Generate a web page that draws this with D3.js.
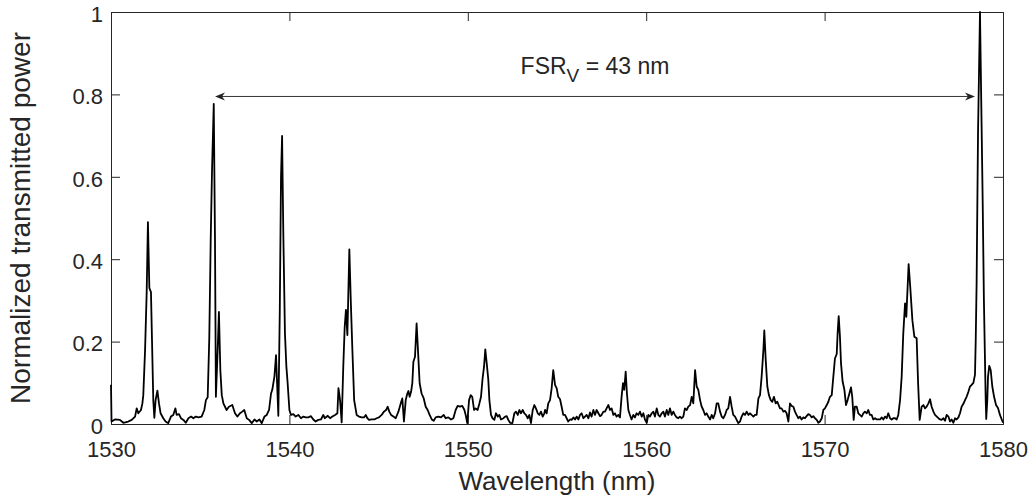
<!DOCTYPE html>
<html>
<head>
<meta charset="utf-8">
<script src="https://cdn.jsdelivr.net/npm/d3@7/dist/d3.min.js"></script>
<style>
  body { margin: 0; background: #fff; }
  svg text { font-family: "Liberation Sans", Arial, Helvetica, sans-serif; fill: #262626; }
</style>
</head>
<body>
<svg id="chart" width="1031" height="496"></svg>
<script>
"use strict";

var wavelength = [
  1530.00,1530.03,1530.22,1530.50,1530.69,1530.97,1531.16,1531.35,1531.44,1531.53,1531.68,1531.76,1531.81,1531.91,1532.00,1532.07,1532.15,1532.24,1532.30,1532.37,
  1532.43,1532.50,1532.60,1532.69,1532.78,1532.93,1533.06,1533.21,1533.36,1533.49,1533.61,1533.68,1533.81,1533.92,1534.06,1534.19,1534.34,1534.49,1534.62,1534.75,
  1534.90,1535.08,1535.23,1535.32,1535.42,1535.51,1535.59,1535.66,1535.76,1535.83,1535.88,1535.98,1536.05,1536.13,1536.21,1536.30,1536.48,1536.61,1536.80,1536.95,
  1537.08,1537.23,1537.36,1537.47,1537.61,1537.74,1537.89,1538.04,1538.17,1538.32,1538.45,1538.60,1538.73,1538.86,1538.97,1539.04,1539.16,1539.25,1539.31,1539.38,
  1539.46,1539.53,1539.59,1539.66,1539.75,1539.83,1539.90,1540.00,1540.09,1540.22,1540.35,1540.50,1540.65,1540.78,1540.91,1541.06,1541.21,1541.34,1541.47,1541.62,
  1541.77,1541.90,1541.98,1542.15,1542.28,1542.41,1542.56,1542.69,1542.75,1542.84,1542.93,1543.02,1543.10,1543.17,1543.25,1543.36,1543.44,1543.53,1543.63,1543.77,
  1543.90,1544.05,1544.18,1544.28,1544.37,1544.46,1544.61,1544.76,1544.89,1545.02,1545.17,1545.30,1545.42,1545.51,1545.60,1545.70,1545.83,1545.96,1546.11,1546.24,
  1546.33,1546.42,1546.52,1546.61,1546.67,1546.74,1546.82,1546.89,1546.95,1547.04,1547.13,1547.23,1547.30,1547.41,1547.53,1547.64,1547.75,1547.86,1547.98,1548.09,
  1548.20,1548.35,1548.50,1548.65,1548.76,1548.91,1549.06,1549.19,1549.32,1549.43,1549.56,1549.69,1549.81,1549.88,1549.97,1550.07,1550.16,1550.25,1550.35,1550.44,
  1550.55,1550.65,1550.74,1550.83,1550.91,1550.98,1551.08,1551.15,1551.21,1551.30,1551.39,1551.49,1551.58,1551.68,1551.77,1551.86,1552.00,1552.09,1552.18,1552.27,
  1552.37,1552.50,1552.61,1552.70,1552.80,1552.89,1552.98,1553.08,1553.17,1553.26,1553.36,1553.45,1553.54,1553.64,1553.73,1553.82,1553.92,1554.01,1554.10,1554.20,
  1554.29,1554.33,1554.42,1554.51,1554.61,1554.70,1554.79,1554.89,1554.98,1555.07,1555.17,1555.26,1555.35,1555.45,1555.54,1555.63,1555.73,1555.82,1555.92,1556.01,
  1556.10,1556.20,1556.29,1556.38,1556.48,1556.57,1556.66,1556.76,1556.85,1556.94,1557.04,1557.13,1557.22,1557.32,1557.41,1557.50,1557.60,1557.69,1557.78,1557.88,
  1557.97,1558.06,1558.16,1558.25,1558.34,1558.44,1558.53,1558.62,1558.70,1558.77,1558.85,1558.92,1559.00,1559.09,1559.18,1559.28,1559.37,1559.46,1559.56,1559.65,
  1559.75,1559.84,1559.93,1560.03,1560.12,1560.21,1560.31,1560.40,1560.49,1560.59,1560.68,1560.77,1560.87,1560.96,1561.05,1561.15,1561.24,1561.33,1561.43,1561.52,
  1561.61,1561.71,1561.80,1561.89,1561.99,1562.08,1562.17,1562.27,1562.36,1562.46,1562.55,1562.64,1562.74,1562.83,1562.92,1563.02,1563.11,1563.20,1563.30,1563.39,
  1563.48,1563.58,1563.67,1563.76,1563.86,1563.95,1564.04,1564.14,1564.23,1564.32,1564.42,1564.51,1564.60,1564.70,1564.79,1564.88,1564.98,1565.07,1565.16,1565.26,
  1565.35,1565.45,1565.54,1565.63,1565.73,1565.82,1565.91,1566.01,1566.10,1566.19,1566.29,1566.38,1566.47,1566.57,1566.62,1566.70,1566.79,1566.88,1566.98,1567.07,
  1567.16,1567.26,1567.35,1567.50,1567.59,1567.69,1567.78,1567.87,1567.97,1568.06,1568.15,1568.25,1568.34,1568.43,1568.53,1568.62,1568.71,1568.81,1568.90,1568.99,
  1569.09,1569.18,1569.28,1569.37,1569.46,1569.56,1569.65,1569.74,1569.84,1569.93,1570.02,1570.12,1570.21,1570.30,1570.40,1570.49,1570.58,1570.68,1570.73,1570.79,
  1570.86,1570.92,1571.01,1571.11,1571.20,1571.29,1571.39,1571.48,1571.55,1571.63,1571.70,1571.80,1571.89,1571.98,1572.08,1572.17,1572.26,1572.36,1572.45,1572.54,
  1572.64,1572.73,1572.83,1572.92,1573.01,1573.11,1573.20,1573.29,1573.39,1573.48,1573.57,1573.67,1573.76,1573.85,1573.95,1574.04,1574.13,1574.23,1574.32,1574.41,
  1574.51,1574.58,1574.71,1574.80,1574.92,1575.03,1575.16,1575.24,1575.33,1575.44,1575.54,1575.63,1575.72,1575.82,1575.91,1576.00,1576.10,1576.19,1576.29,1576.38,
  1576.47,1576.56,1576.66,1576.75,1576.84,1576.94,1577.03,1577.12,1577.22,1577.31,1577.40,1577.50,1577.59,1577.68,1577.78,1577.87,1577.96,1578.06,1578.15,1578.24,
  1578.34,1578.43,1578.47,1578.52,1578.60,1578.71,1578.78,1578.86,1578.93,1579.03,1579.06,1579.12,1579.16,1579.23,1579.31,1579.40,1579.50,1579.61,1579.72,1579.83,
  1580.00
];

var power = [
  0.095,0.006,0.011,0.010,0.003,0.006,0.010,0.018,0.038,0.026,0.034,0.050,0.070,0.180,0.320,0.490,0.330,0.320,0.200,0.058,
  0.015,0.058,0.081,0.050,0.026,0.014,0.006,0.002,0.018,0.022,0.038,0.022,0.024,0.014,0.010,0.003,0.014,0.018,0.014,0.018,
  0.016,0.018,0.034,0.058,0.065,0.210,0.450,0.610,0.777,0.440,0.066,0.180,0.272,0.130,0.070,0.050,0.034,0.042,0.046,0.026,
  0.018,0.026,0.030,0.034,0.014,0.010,0.002,0.011,0.006,0.011,0.002,0.018,0.022,0.034,0.074,0.083,0.115,0.167,0.099,0.020,
  0.270,0.600,0.699,0.460,0.220,0.140,0.100,0.034,0.022,0.024,0.018,0.022,0.014,0.018,0.016,0.016,0.019,0.011,0.006,0.010,
  0.011,0.022,0.014,0.020,0.014,0.018,0.022,0.026,0.087,0.058,0.004,0.139,0.236,0.277,0.216,0.424,0.300,0.180,0.058,0.022,
  0.018,0.016,0.016,0.022,0.014,0.010,0.011,0.011,0.014,0.016,0.022,0.030,0.034,0.042,0.030,0.022,0.018,0.014,0.030,0.050,
  0.062,0.006,0.058,0.074,0.080,0.066,0.078,0.099,0.151,0.163,0.244,0.160,0.099,0.074,0.062,0.042,0.034,0.022,0.011,0.008,
  0.016,0.018,0.016,0.022,0.014,0.016,0.011,0.014,0.034,0.044,0.042,0.044,0.034,0.022,0.002,0.058,0.070,0.066,0.034,0.038,
  0.034,0.050,0.066,0.111,0.139,0.181,0.139,0.107,0.058,0.022,0.014,0.010,0.026,0.018,0.022,0.011,0.014,0.018,0.019,0.010,
  0.003,0.002,0.026,0.030,0.022,0.034,0.026,0.034,0.026,0.022,0.014,0.022,0.002,0.034,0.046,0.038,0.026,0.022,0.030,0.018,
  0.026,0.034,0.026,0.050,0.058,0.087,0.131,0.095,0.087,0.066,0.060,0.042,0.022,0.022,0.014,0.006,0.011,0.010,0.016,0.011,
  0.018,0.011,0.022,0.026,0.014,0.018,0.022,0.014,0.028,0.018,0.034,0.022,0.034,0.026,0.019,0.022,0.030,0.030,0.038,0.046,
  0.034,0.038,0.022,0.026,0.018,0.022,0.016,0.066,0.099,0.083,0.127,0.074,0.034,0.022,0.011,0.022,0.016,0.026,0.022,0.030,
  0.018,0.026,0.011,0.003,0.022,0.018,0.026,0.030,0.018,0.038,0.022,0.018,0.026,0.030,0.018,0.034,0.022,0.038,0.022,0.030,
  0.022,0.016,0.014,0.018,0.014,0.018,0.038,0.034,0.042,0.046,0.066,0.050,0.131,0.091,0.083,0.058,0.042,0.034,0.022,0.026,
  0.018,0.011,0.022,0.014,0.026,0.050,0.050,0.030,0.018,0.014,0.022,0.034,0.038,0.066,0.042,0.022,0.018,0.010,0.002,0.006,
  0.018,0.026,0.022,0.030,0.022,0.026,0.022,0.018,0.022,0.022,0.062,0.070,0.115,0.180,0.227,0.155,0.091,0.070,0.058,0.054,
  0.066,0.050,0.054,0.038,0.038,0.030,0.032,0.026,0.006,0.050,0.044,0.042,0.030,0.022,0.014,0.018,0.011,0.016,0.014,0.019,
  0.024,0.022,0.016,0.019,0.014,0.010,0.003,0.006,0.014,0.034,0.038,0.046,0.054,0.066,0.070,0.115,0.159,0.170,0.220,0.262,
  0.212,0.147,0.103,0.083,0.046,0.058,0.074,0.089,0.066,0.010,0.042,0.042,0.026,0.022,0.018,0.026,0.030,0.026,0.034,0.022,
  0.022,0.011,0.014,0.011,0.011,0.011,0.016,0.011,0.018,0.014,0.026,0.014,0.011,0.014,0.014,0.011,0.022,0.058,0.115,0.220,
  0.293,0.260,0.388,0.333,0.252,0.212,0.208,0.100,0.010,0.042,0.046,0.038,0.042,0.050,0.060,0.042,0.030,0.022,0.018,0.014,
  0.011,0.010,0.014,0.008,0.022,0.018,0.006,0.011,0.003,0.014,0.011,0.016,0.026,0.042,0.049,0.058,0.066,0.078,0.091,0.095,
  0.100,0.120,0.200,0.340,0.706,1.000,0.786,0.544,0.300,0.058,0.012,0.058,0.115,0.141,0.131,0.091,0.066,0.046,0.039,0.022,
  0.003
];

var xTicks = [1530, 1540, 1550, 1560, 1570, 1580];
var yTicks = [0, 0.2, 0.4, 0.6, 0.8, 1];

// FSR arrow annotation (nm, normalized power)
var fsrStart = 1535.83, fsrEnd = 1578.43, fsrLevel = 0.795;

var data = wavelength.map(function(w, i) { return {w: w, p: power[i]}; });

var svg = d3.select("#chart"),
    margin = {top: 12, right: 28, bottom: 72, left: 111},
    width = +svg.attr("width") - margin.left - margin.right,
    height = +svg.attr("height") - margin.top - margin.bottom,
    g = svg.append("g").attr("transform", "translate(" + margin.left + "," + margin.top + ")");

var x = d3.scaleLinear().domain([1530, 1580]).range([0, width]),
    y = d3.scaleLinear().domain([0, 1]).range([height, 0]);

var axisColor = "#262626";

// bottom + top axes, ticks inward
var xb = g.append("g")
    .attr("transform", "translate(0," + height + ")")
    .call(d3.axisBottom(x).tickValues(xTicks).tickSize(-9).tickPadding(17).tickFormat(d3.format("d")));
var xt = g.append("g")
    .call(d3.axisTop(x).tickValues(xTicks).tickSize(-9).tickFormat(""));
var yl = g.append("g")
    .call(d3.axisLeft(y).tickValues(yTicks).tickSize(-9).tickPadding(8).tickFormat(function(d) { return d3.format("~g")(d); }));
var yr = g.append("g")
    .attr("transform", "translate(" + width + ",0)")
    .call(d3.axisRight(y).tickValues(yTicks).tickSize(-9).tickFormat(""));

[xb, xt, yl, yr].forEach(function(a) {
  a.select(".domain").attr("stroke", axisColor).attr("stroke-width", 1);
  a.selectAll(".tick line").attr("stroke", axisColor).attr("stroke-width", 1);
  a.selectAll(".tick text").attr("fill", axisColor).style("font-size", "22px");
});
yl.selectAll(".tick text").attr("dy", "0.42em");

var line = d3.line()
    .x(function(d) { return x(d.w); })
    .y(function(d) { return y(d.p); });

g.append("path")
    .datum(data)
    .attr("fill", "none")
    .attr("stroke", "#000")
    .attr("stroke-width", 1.8)
    .attr("stroke-linejoin", "round")
    .attr("d", line);

// double arrow
var ay = y(fsrLevel), ax0 = x(fsrStart), ax1 = x(fsrEnd);
g.append("line")
    .attr("x1", ax0 + 4).attr("x2", ax1 - 4)
    .attr("y1", ay).attr("y2", ay)
    .attr("stroke", "#333").attr("stroke-width", 1);
g.append("path")
    .attr("d", "M" + ax0 + "," + ay + "L" + (ax0 + 10) + "," + (ay - 4) + "L" + (ax0 + 7) + "," + ay + "L" + (ax0 + 10) + "," + (ay + 4) + "Z")
    .attr("fill", "#222");
g.append("path")
    .attr("d", "M" + ax1 + "," + ay + "L" + (ax1 - 10) + "," + (ay - 4) + "L" + (ax1 - 7) + "," + ay + "L" + (ax1 - 10) + "," + (ay + 4) + "Z")
    .attr("fill", "#222");

var fsr = g.append("text")
    .attr("x", x((fsrStart + fsrEnd) / 2))
    .attr("y", 62)
    .attr("text-anchor", "middle")
    .style("font-size", "23px")
    .attr("fill", "#000");
fsr.append("tspan").text("FSR");
fsr.append("tspan").attr("dy", 8).style("font-size", "19px").text("V");
fsr.append("tspan").attr("dy", -8).text(" = 43 nm");

svg.append("text")
    .attr("x", margin.left + width / 2)
    .attr("y", 490)
    .attr("text-anchor", "middle")
    .style("font-size", "26px")
    .text("Wavelength (nm)");

svg.append("text")
    .attr("transform", "translate(30," + (margin.top + height / 2) + ") rotate(-90)")
    .attr("text-anchor", "middle")
    .style("font-size", "28px")
    .text("Normalized transmitted power");
</script>
</body>
</html>
